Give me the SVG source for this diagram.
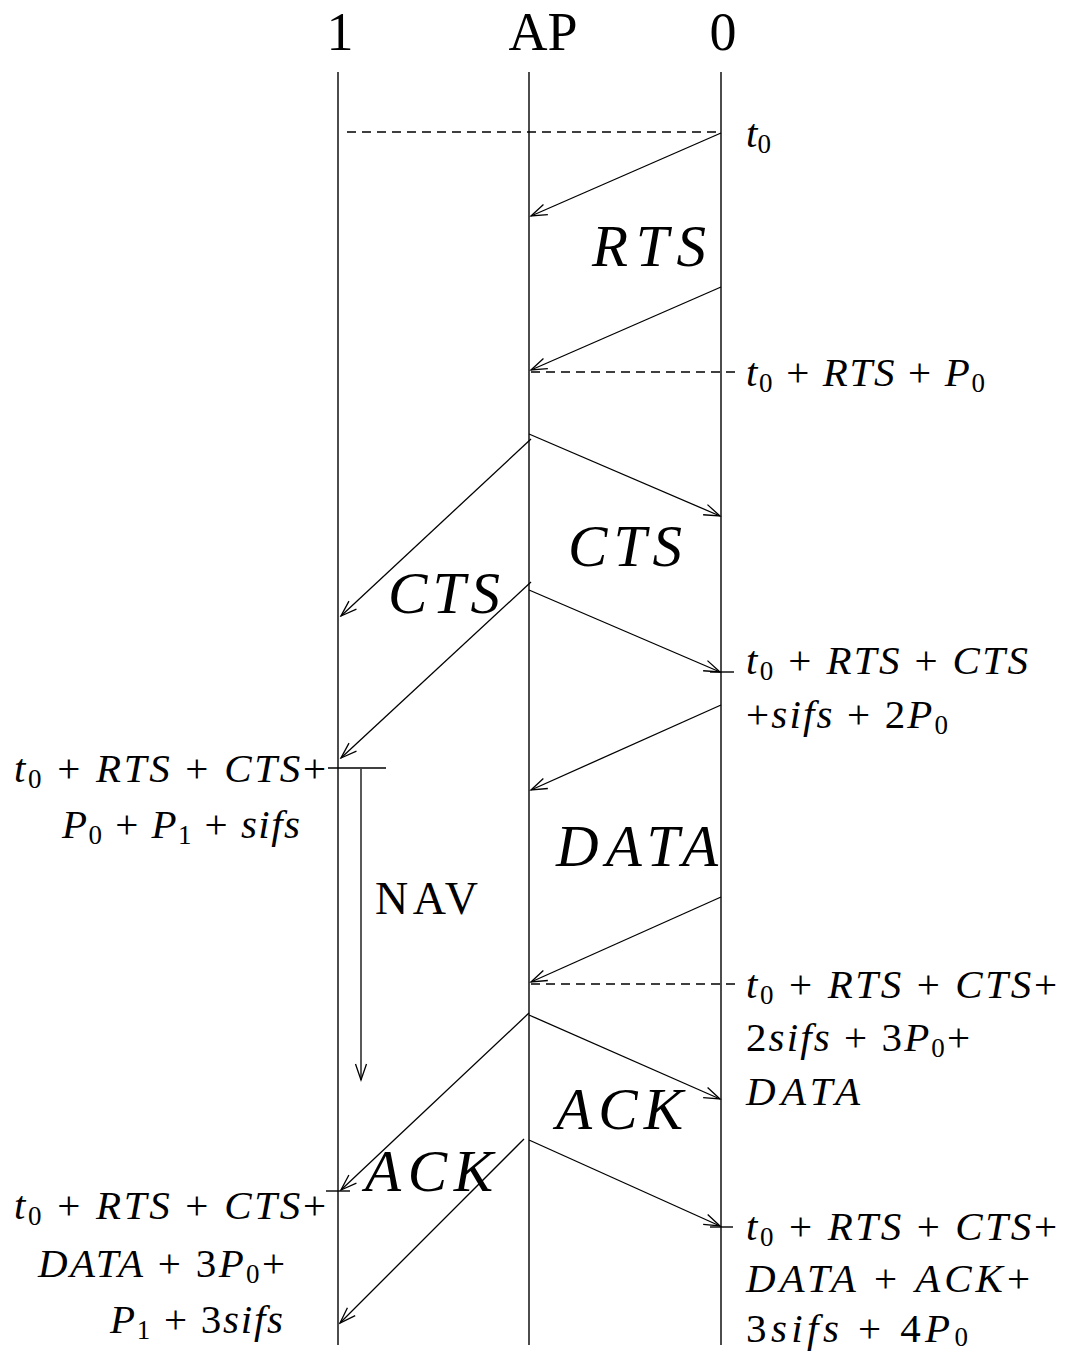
<svg xmlns="http://www.w3.org/2000/svg" width="1067" height="1353" viewBox="0 0 1067 1353">
<defs>
<style>
.ln{stroke:#000;stroke-width:1.4;fill:none}
.ds{stroke:#000;stroke-width:1.3;fill:none;stroke-dasharray:9 6}
.ar{stroke:#000;stroke-width:1.3;fill:none;marker-end:url(#ah)}
.hd{font-family:"Liberation Serif",serif;font-size:54px;fill:#000}
.m{font-family:"Liberation Serif",serif;font-size:41px;fill:#000}
.big{font-family:"Liberation Serif",serif;font-size:59px;font-style:italic;fill:#000}
.i{font-style:italic}
.s{font-size:27px;font-style:normal}
.nav{font-family:"Liberation Serif",serif;font-size:46px;fill:#000}
</style>
<marker id="ah" markerUnits="userSpaceOnUse" markerWidth="20" markerHeight="14" viewBox="-18 -7 20 14" refX="0" refY="0" orient="auto">
<path d="M-16,-5.5 L0,0 L-16,5.5" fill="none" stroke="#000" stroke-width="1.3"/>
</marker>
</defs>
<rect width="1067" height="1353" fill="#fff"/>

<g id="node-1">
<text class="hd" x="340" y="50" text-anchor="middle">1</text>
<line class="ln" x1="338" y1="72" x2="338" y2="1345"/>
</g>
<g id="node-AP">
<text class="hd" x="543" y="50" text-anchor="middle">AP</text>
<line class="ln" x1="529" y1="72" x2="529" y2="1345"/>
</g>
<g id="node-0">
<text class="hd" x="723" y="50" text-anchor="middle">0</text>
<line class="ln" x1="721" y1="72" x2="721" y2="1345"/>
</g>

<g id="connectors">
<line class="ds" x1="347" y1="132" x2="721" y2="132"/>
<line class="ds" x1="531" y1="372" x2="736" y2="372"/>
<line class="ds" x1="531" y1="984" x2="736" y2="984"/>
<line class="ar" x1="721" y1="133" x2="531" y2="216"/>
<line class="ar" x1="721" y1="287" x2="531" y2="370"/>
<line class="ar" x1="529" y1="434" x2="720" y2="516"/>
<line class="ar" x1="531" y1="439" x2="341" y2="616"/>
<line class="ar" x1="529" y1="590" x2="720" y2="672"/>
<line class="ar" x1="531" y1="582" x2="341" y2="758"/>
<line class="ar" x1="721" y1="705" x2="531" y2="790"/>
<line class="ar" x1="721" y1="897" x2="531" y2="982"/>
<line class="ar" x1="529" y1="1015" x2="720" y2="1099"/>
<line class="ar" x1="529" y1="1013" x2="341" y2="1190"/>
<line class="ar" x1="529" y1="1140" x2="720" y2="1226"/>
<line class="ar" x1="524" y1="1139" x2="340" y2="1323"/>
<line class="ar" x1="361" y1="769" x2="361" y2="1080"/>
<line class="ln" x1="710" y1="672" x2="734" y2="672"/>
<line class="ln" x1="328" y1="768" x2="386" y2="768"/>
<line class="ln" x1="326" y1="1191" x2="350" y2="1191"/>
<line class="ln" x1="710" y1="1227" x2="733" y2="1227"/>
</g>

<g id="labels-big">
<text class="big" x="592" y="266" textLength="114" lengthAdjust="spacing">RTS</text>
<text class="big" x="568" y="566" textLength="114" lengthAdjust="spacing">CTS</text>
<text class="big" x="388" y="613" textLength="112" lengthAdjust="spacing">CTS</text>
<text class="big" x="556" y="866" textLength="162" lengthAdjust="spacing">DATA</text>
<text class="big" x="556" y="1129" textLength="127" lengthAdjust="spacing">ACK</text>
<text class="big" x="365" y="1191" textLength="128" lengthAdjust="spacing">ACK</text>
<text class="nav" x="375" y="914" textLength="103" lengthAdjust="spacing">NAV</text>
</g>

<g id="labels-right">
<text class="m" x="746" y="147"><tspan class="i">t</tspan><tspan class="s" dy="6">0</tspan></text>
<text class="m" x="746" y="386" textLength="239" lengthAdjust="spacing"><tspan class="i">t</tspan><tspan class="s" dy="6">0</tspan><tspan dy="-6"> + </tspan><tspan class="i">RTS</tspan> + <tspan class="i">P</tspan><tspan class="s" dy="6">0</tspan></text>
<text class="m" x="746" y="674" textLength="282" lengthAdjust="spacing"><tspan class="i">t</tspan><tspan class="s" dy="6">0</tspan><tspan dy="-6"> + </tspan><tspan class="i">RTS</tspan> + <tspan class="i">CTS</tspan></text>
<text class="m" x="746" y="728" textLength="202" lengthAdjust="spacing">+<tspan class="i">sifs</tspan> + 2<tspan class="i">P</tspan><tspan class="s" dy="6">0</tspan></text>
<text class="m" x="746" y="998" textLength="311" lengthAdjust="spacing"><tspan class="i">t</tspan><tspan class="s" dy="6">0</tspan><tspan dy="-6"> + </tspan><tspan class="i">RTS</tspan> + <tspan class="i">CTS</tspan>+</text>
<text class="m" x="746" y="1051" textLength="224" lengthAdjust="spacing">2<tspan class="i">sifs</tspan> + 3<tspan class="i">P</tspan><tspan class="s" dy="6">0</tspan><tspan dy="-6">+</tspan></text>
<text class="m" x="746" y="1105" textLength="114" lengthAdjust="spacing"><tspan class="i">DATA</tspan></text>
<text class="m" x="746" y="1240" textLength="311" lengthAdjust="spacing"><tspan class="i">t</tspan><tspan class="s" dy="6">0</tspan><tspan dy="-6"> + </tspan><tspan class="i">RTS</tspan> + <tspan class="i">CTS</tspan>+</text>
<text class="m" x="746" y="1292" textLength="284" lengthAdjust="spacing"><tspan class="i">DATA</tspan> + <tspan class="i">ACK</tspan>+</text>
<text class="m" x="746" y="1342" textLength="222" lengthAdjust="spacing">3<tspan class="i">sifs</tspan> + 4<tspan class="i">P</tspan><tspan class="s" dy="4">0</tspan></text>
</g>

<g id="labels-left">
<text class="m" x="14" y="782" textLength="312" lengthAdjust="spacing"><tspan class="i">t</tspan><tspan class="s" dy="6">0</tspan><tspan dy="-6"> + </tspan><tspan class="i">RTS</tspan> + <tspan class="i">CTS</tspan>+</text>
<text class="m" x="62" y="838" textLength="238" lengthAdjust="spacing"><tspan class="i">P</tspan><tspan class="s" dy="6">0</tspan><tspan dy="-6"> + </tspan><tspan class="i">P</tspan><tspan class="s" dy="6">1</tspan><tspan dy="-6"> + </tspan><tspan class="i">sifs</tspan></text>
<text class="m" x="14" y="1219" textLength="312" lengthAdjust="spacing"><tspan class="i">t</tspan><tspan class="s" dy="6">0</tspan><tspan dy="-6"> + </tspan><tspan class="i">RTS</tspan> + <tspan class="i">CTS</tspan>+</text>
<text class="m" x="38" y="1277" textLength="247" lengthAdjust="spacing"><tspan class="i">DATA</tspan> + 3<tspan class="i">P</tspan><tspan class="s" dy="6">0</tspan><tspan dy="-6">+</tspan></text>
<text class="m" x="110" y="1333" textLength="173" lengthAdjust="spacing"><tspan class="i">P</tspan><tspan class="s" dy="6">1</tspan><tspan dy="-6"> + 3</tspan><tspan class="i">sifs</tspan></text>
</g>
</svg>
